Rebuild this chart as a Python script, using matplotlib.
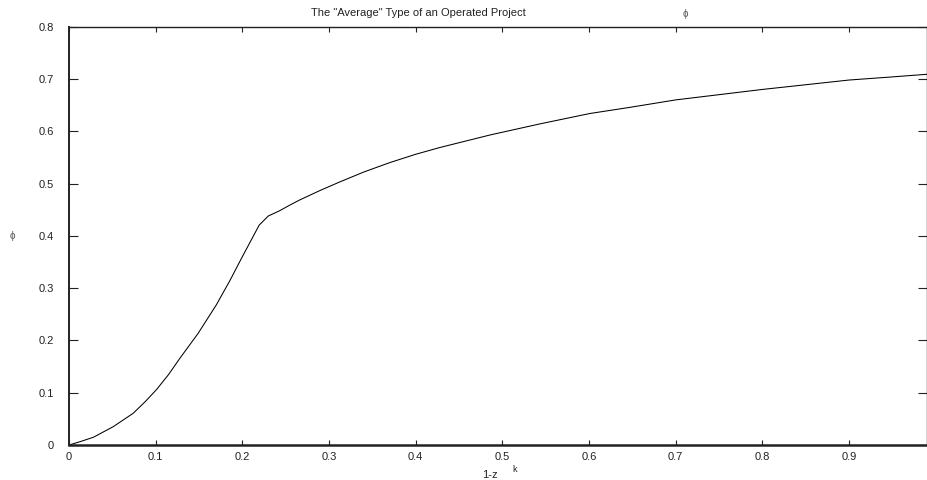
import matplotlib
matplotlib.use("Agg")
import matplotlib.pyplot as plt

plt.rcParams['font.family'] = ['Liberation Sans', 'DejaVu Sans']

# values
one_minus_zk = [0, 0.0125, 0.028, 0.051, 0.074, 0.088, 0.101, 0.115, 0.128, 0.149,
                0.170, 0.186, 0.199, 0.2195, 0.230, 0.243, 0.255, 0.266, 0.290,
                0.313, 0.340, 0.370, 0.400, 0.428, 0.486, 0.543, 0.601, 0.647,
                0.700, 0.750, 0.800, 0.850, 0.900, 0.950, 0.990]
phi = [0, 0.0062, 0.0147, 0.035, 0.0606, 0.083, 0.106, 0.135, 0.166, 0.2135,
       0.268, 0.3155, 0.357, 0.4207, 0.438, 0.448, 0.459, 0.4685, 0.487,
       0.5035, 0.522, 0.540, 0.556, 0.569, 0.593, 0.614, 0.634, 0.6457,
       0.660, 0.670, 0.680, 0.689, 0.698, 0.704, 0.709]
xticks = [0, 0.1, 0.2, 0.3, 0.4, 0.5, 0.6, 0.7, 0.8, 0.9]
yticks = [0, 0.1, 0.2, 0.3, 0.4, 0.5, 0.6, 0.7, 0.8]

W, H = 928, 480
fig = plt.figure(figsize=(W / 100, H / 100), dpi=100)
ax = fig.add_axes([69 / W, 35 / H, (927 - 69) / W, (445 - 26.7) / H])

ax.plot(one_minus_zk, phi, color='black', lw=0.75)
ax.set_xlim(0, 0.99)
ax.set_ylim(0, 0.8)
ax.set_xticks(xticks)
ax.set_yticks(yticks)
ax.set_xticklabels(['0' if t == 0 else '%g' % t for t in xticks])
ax.set_yticklabels(['0' if t == 0 else '%g' % t for t in yticks])
ax.tick_params(direction='in', top=True, right=True, width=0.8,
               labelsize=8, colors='#222222')
ax.tick_params(axis='y', pad=11, length=6.5)
ax.tick_params(axis='x', pad=5, length=3.8)
for side, s in ax.spines.items():
    s.set_color('#222222')
    s.set_linewidth(1.0)
ax.spines['bottom'].set_linewidth(1.8)
ax.spines['left'].set_linewidth(1.4)

fig.text(418 / W, 1 - 13.5 / H, 'The "Average" Type of an Operated Project',
         ha='center', va='center', fontsize=8, color='#222222')
fig.text(685.7 / W, 1 - 14 / H, '\u03d5', ha='center', va='center',
         fontsize=7, color='#555555')
fig.text(12.7 / W, 1 - 236 / H, '\u03d5', ha='center', va='center',
         fontsize=7, color='#555555')
fig.text(490 / W, 1 - 475 / H, '1-z', ha='center', va='center',
         fontsize=8, color='#222222')
fig.text(515 / W, 1 - 469 / H, 'k', ha='center', va='center',
         fontsize=6.5, color='#222222')

fig.savefig('out.png', dpi=100)
